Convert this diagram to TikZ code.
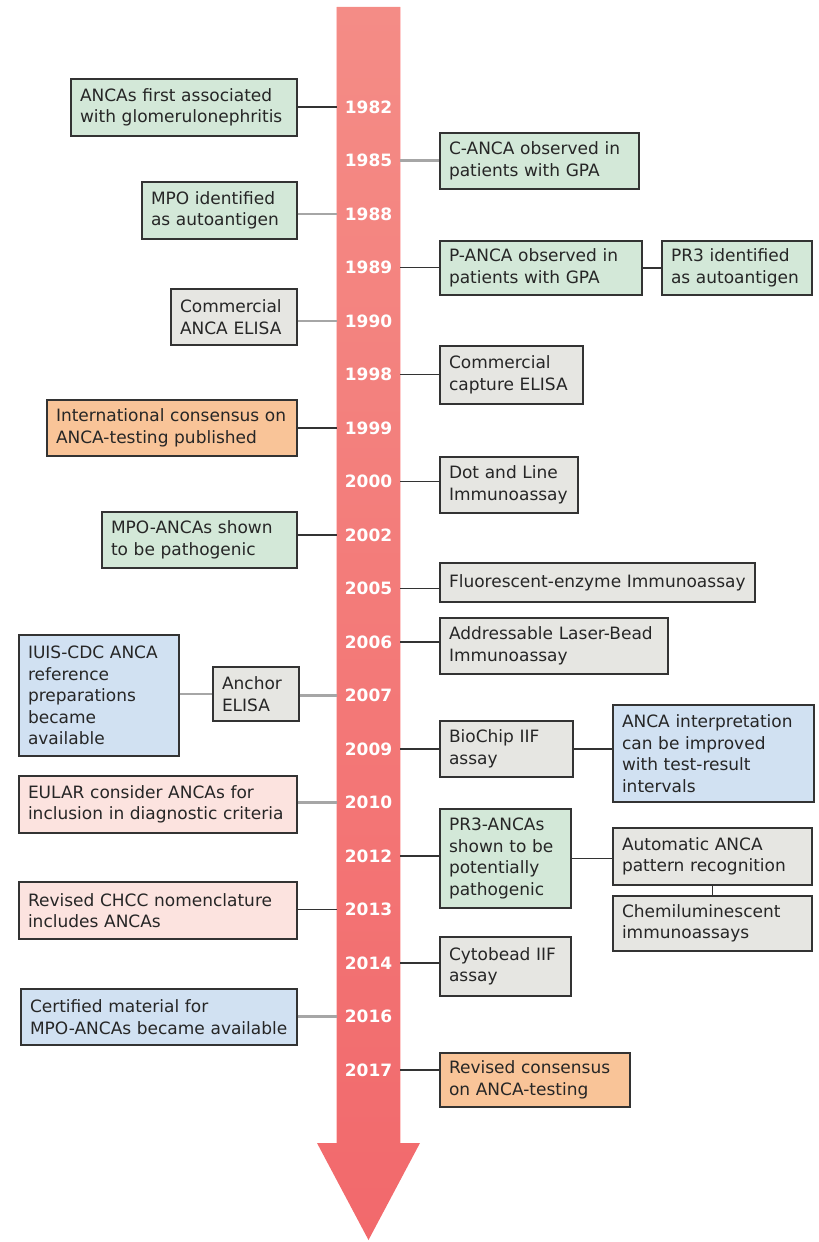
\documentclass[tikz,border=0pt]{standalone}
\usepackage{fontspec}
\setmainfont{DejaVu Sans}
\usepackage{xcolor}
\usepackage{tikz}
\usetikzlibrary{positioning}
\definecolor{grnfill}{HTML}{D3E8D8}
\definecolor{gryfill}{HTML}{E6E6E2}
\definecolor{orgfill}{HTML}{F9C498}
\definecolor{blufill}{HTML}{D1E1F2}
\definecolor{pnkfill}{HTML}{FCE3DF}
\definecolor{edge}{HTML}{333333}
\definecolor{barTop}{HTML}{F48C86}
\definecolor{barBot}{HTML}{F2696C}
\tikzset{
  evt/.style={draw=edge, line width=1.4pt, align=left, inner xsep=9pt, inner ysep=0pt,
              text=black!85, font=\fontsize{17}{21.5}\selectfont},
  grn/.style={evt, fill=grnfill},
  gry/.style={evt, fill=gryfill},
  org/.style={evt, fill=orgfill},
  blu/.style={evt, fill=blufill},
  pnk/.style={evt, fill=pnkfill},
  yr/.style={text=white, font=\fontsize{17}{17}\selectfont\bfseries, inner sep=0pt},
  link/.style={draw=edge, line width=1.6pt},
  faint/.style={draw=black!35, line width=2.4pt}
}
\begin{document}
\begin{tikzpicture}[x=1pt, y=-1pt]
  \useasboundingbox (0,0) rectangle (819,1242);
  % timeline arrow
  \node[minimum width=63pt, minimum height=1136pt, inner sep=0pt] (bar) at (368.5,575) {};
  \coordinate (tip) at (368.5,1240);
  \shade[top color=barTop, bottom color=barBot]
    (bar.north west) -- (bar.north east) -- (bar.south east) -- (420,1143)
    -- (tip) -- (317,1143) -- (bar.south west) -- cycle;
  \draw[red!20, line width=0.8pt] (bar.north west) -- (bar.south west);
  \draw[red!20, line width=0.8pt] (bar.north east) -- (bar.south east);
  % years
  \foreach \yr [count=\i from 0] in {1982,1985,1988,1989,1990,1998,1999,2000,2002,2005,
                                     2006,2007,2009,2010,2012,2013,2014,2016,2017}
    \node[yr] (y\yr) at (368.5,{107+53.5*\i}) {\yr};
  % left side
  \node[grn, text width=208pt, minimum height=57pt] (glom)    at (184,107.5) {ANCAs first associated\\with glomerulonephritis};
  \node[grn, text width=137pt, minimum height=57pt] (mpo)     at (219.5,210.5) {MPO identified\\as autoantigen};
  \node[gry, text width=108pt, minimum height=56pt] (celisa)  at (234,317) {Commercial\\ANCA ELISA};
  \node[org, text width=232pt, minimum height=56pt] (intl)    at (172,428) {International consensus on\\ANCA-testing published};
  \node[grn, text width=177pt, minimum height=56pt] (mpoanca) at (199.5,540) {MPO-ANCAs shown\\to be pathogenic};
  \node[blu, text width=142pt, minimum height=121pt] (iuis)   at (99,695.5) {IUIS-CDC ANCA\\reference\\preparations\\became\\available};
  \node[gry, text width=68pt, minimum height=54pt] (anchor)   at (256,694) {Anchor\\ELISA};
  \node[pnk, text width=260pt, minimum height=57pt] (eular)   at (158,804.5) {EULAR consider ANCAs for\\inclusion in diagnostic criteria};
  \node[pnk, text width=260pt, minimum height=57pt] (chcc)    at (158,910.5) {Revised CHCC nomenclature\\includes ANCAs};
  \node[blu, text width=258pt, minimum height=56pt] (cert)    at (159,1017) {Certified material for\\MPO-ANCAs became available};
  % right side
  \node[grn, text width=181pt, minimum height=56pt] (canca)   at (539.5,161) {C-ANCA observed in\\patients with GPA};
  \node[grn, text width=184pt, minimum height=54pt] (panca)   at (541,268) {P-ANCA observed in\\patients with GPA};
  \node[grn, text width=132pt, minimum height=54pt] (prthree) at (737,268) {PR3 identified\\as autoantigen};
  \node[gry, text width=125pt, minimum height=58pt] (capture) at (511.5,375) {Commercial\\capture ELISA};
  \node[gry, text width=120pt, minimum height=56pt] (dotline) at (509,485) {Dot and Line\\Immunoassay};
  \node[gry, text width=297pt, minimum height=39pt] (fluor)   at (597.5,582.5) {Fluorescent-enzyme Immunoassay};
  \node[gry, text width=210pt, minimum height=56pt] (laser)   at (554,646) {Addressable Laser-Bead\\Immunoassay};
  \node[gry, text width=115pt, minimum height=56pt] (biochip) at (506.5,749) {BioChip IIF\\assay};
  \node[blu, text width=183pt, minimum height=97pt] (interp)  at (713.5,753.5) {ANCA interpretation\\can be improved\\with test-result\\intervals};
  \node[grn, text width=113pt, minimum height=99pt] (prabs)   at (505.5,858.5) {PR3-ANCAs\\shown to be\\potentially\\pathogenic};
  \node[gry, text width=181pt, minimum height=57pt] (autom)   at (712.5,856.5) {Automatic ANCA\\pattern recognition};
  \node[gry, text width=181pt, minimum height=55pt] (chemi)   at (712.5,923.5) {Chemiluminescent\\immunoassays};
  \node[gry, text width=113pt, minimum height=59pt] (cyto)    at (505.5,966.5) {Cytobead IIF\\assay};
  \node[org, text width=172pt, minimum height=54pt] (revised) at (535,1080) {Revised consensus\\on ANCA-testing};
  % links to the timeline
  \foreach \b/\yr in {glom/1982,intl/1999,mpoanca/2002,chcc/2013}
    \draw[link] (\b.east |- y\yr) -- (bar.west |- y\yr);
  \foreach \b/\yr in {mpo/1988,celisa/1990,anchor/2007,eular/2010,cert/2016}
    \draw[faint] (\b.east |- y\yr) -- (bar.west |- y\yr);
  \foreach \b/\yr in {panca/1989,capture/1998,dotline/2000,fluor/2005,laser/2006,
                      biochip/2009,prabs/2012,cyto/2014,revised/2017}
    \draw[link] (bar.east |- y\yr) -- (\b.west |- y\yr);
  \draw[faint] (bar.east |- y1985) -- (canca.west |- y1985);
  % side links
  \draw[faint] (iuis.east |- anchor) -- (anchor.west);
  \draw[link] (panca.east) -- (prthree.west);
  \draw[link] (biochip.east) -- (biochip.east -| interp.west);
  \draw[link] (prabs.east) -- (prabs.east -| autom.west);
  \draw[link] (autom.south) -- (chemi.north);
\end{tikzpicture}
\end{document}
